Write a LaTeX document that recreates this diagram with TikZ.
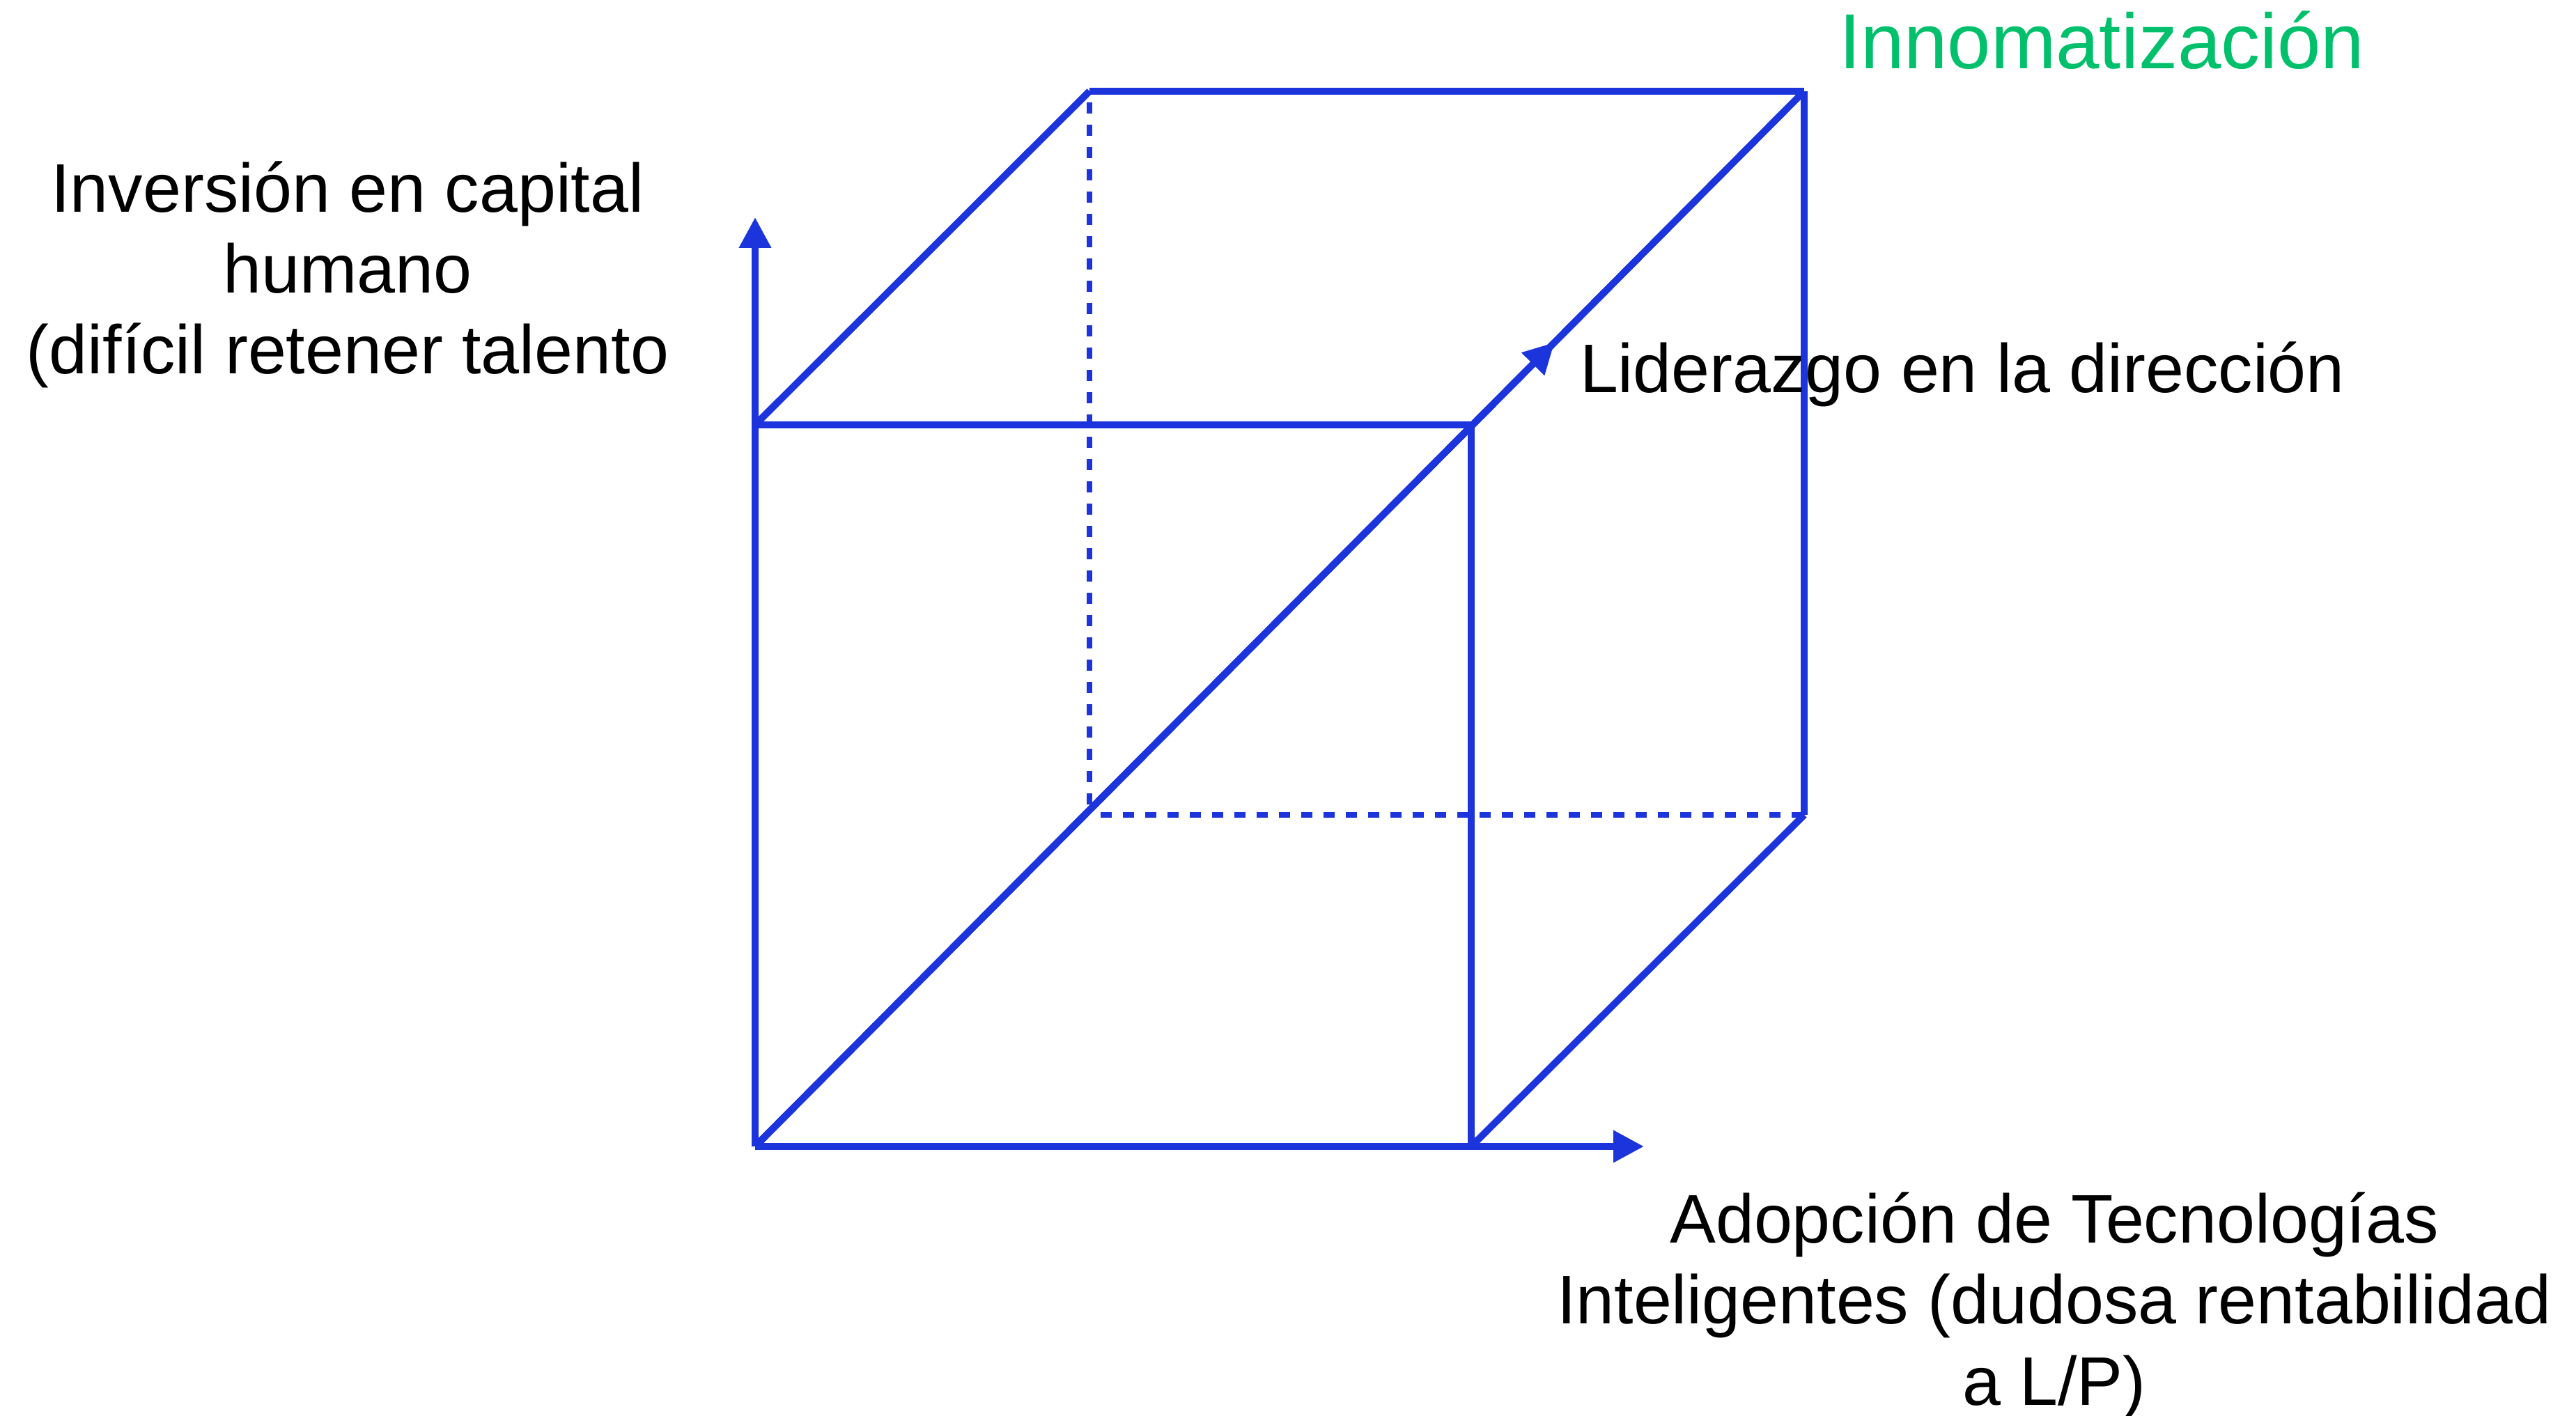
\documentclass[tikz,border=0pt]{standalone}
\usepackage{fontspec}
\setmainfont{Liberation Sans}
\usepackage{tikz}
\usetikzlibrary{arrows.meta,calc,positioning}
\definecolor{azulCubo}{RGB}{28,52,219}
\definecolor{verdeInno}{RGB}{0,192,108}
\tikzstyle{arista}=[azulCubo, line width=1mm]
\tikzstyle{oculta}=[azulCubo, line width=0.8mm,
                    dash pattern=on 1.6mm off 1.6mm, dash phase=1.6mm]
\tikzstyle{eje}=[arista, -{Triangle[length=4.4mm,width=4.4mm]}]
\tikzstyle{rotulo}=[font=\fontsize{28.1}{33.1}\selectfont, align=center,
                    inner sep=0pt, outer sep=0pt]
\begin{document}
\begin{tikzpicture}
    \useasboundingbox (0,0) rectangle (36.98,20.32);

    % esquinas del cubo
    \foreach \n/\x/\y in {O/10.84/3.86, FBR/21.12/3.86, FTL/10.84/14.22, FTR/21.12/14.22,
        BBL/15.64/8.62, BBR/25.90/8.62, BTL/15.64/19.01, BTR/25.90/19.01}
        \draw (\x,\y) coordinate(\n);

    % puntas de los ejes
    \coordinate (ejeX) at (23.60,3.86);
    \coordinate (ejeY) at (10.84,17.20);
    \coordinate (ejeZ) at ($(O)!0.762!(BTR)$);

    \foreach \i/\j in {BTL/BBL,BBL/BBR} \draw [oculta] (\i) to (\j);

    \foreach \i/\j in {FTL/FTR,FBR/FTR,FTL/BTL,FBR/BBR,BTL/BTR,BTR/BBR,O/BTR}
        \draw [arista] (\i) to (\j);

    \foreach \j in {ejeX,ejeY,ejeZ} \draw [eje] (O) to (\j);

    % base = ultima linea
    \node (inv) [rotulo, anchor=base] at (4.99,14.95)
        {Inversión en capital\\humano\\(difícil retener talento};
    \node (adop) [rotulo, anchor=base] at (29.49,0.15)
        {Adopción de Tecnologías\\Inteligentes (dudosa rentabilidad\\a L/P)};
    \node (lid) [rotulo, anchor=base west] at (22.68,14.68) {Liderazgo en la dirección};
    \node (inno) [rotulo, anchor=base west, text=verdeInno,
        font=\fontsize{31.9}{37}\selectfont] at (26.40,19.33) {Innomatización};

\end{tikzpicture}
\end{document}
